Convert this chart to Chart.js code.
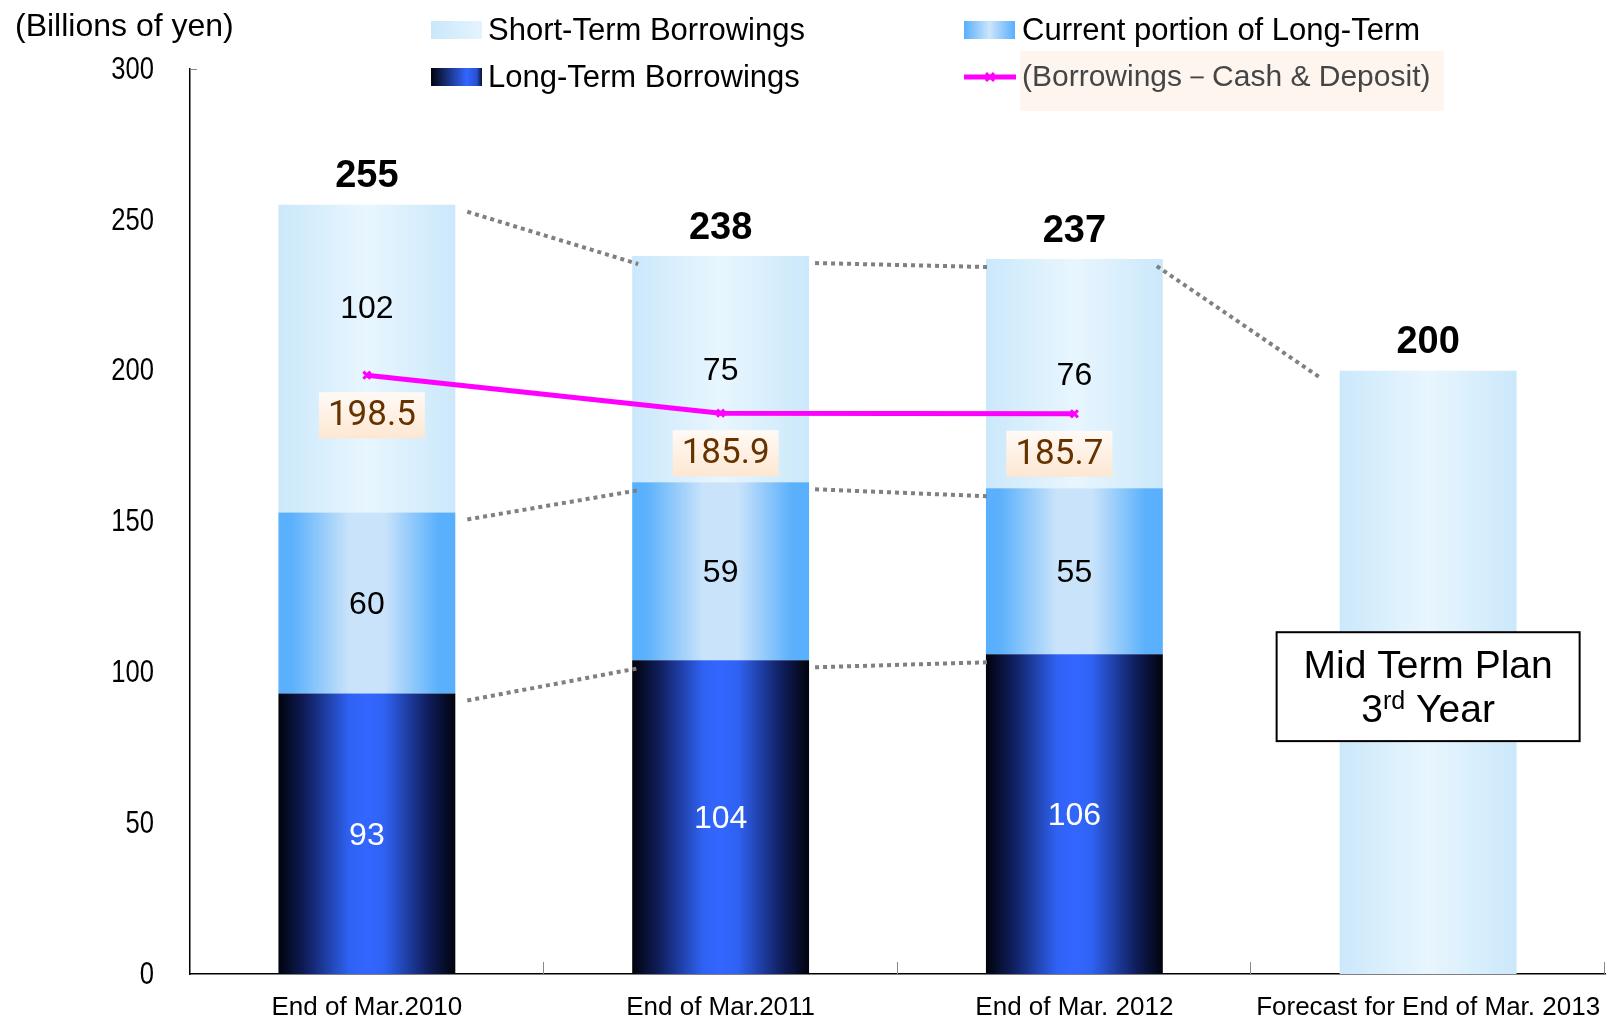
<!DOCTYPE html>
<html><head><meta charset="utf-8">
<script src="https://cdn.jsdelivr.net/npm/chart.js@4/dist/chart.umd.min.js"></script>
<style>html,body{margin:0;padding:0;background:#fff;} #wrap{width:1608px;height:1019px;position:relative;}</style>
</head><body><div id="wrap"><canvas id="c" width="1608" height="1019"></canvas></div>
<script>
const categories = ['End of Mar.2010', 'End of Mar.2011', 'End of Mar. 2012', 'Forecast for End of Mar. 2013'];
const longTerm = [93, 104, 106, null];
const currentPortion = [60, 59, 55, null];
const shortTerm = [102, 75, 76, null];
const forecast = [null, null, null, 200];
const netDebt = [198.5, 185.9, 185.7, null];
const yTicks = [0, 50, 100, 150, 200, 250, 300];
const seriesNames = ['Short-Term Borrowings', 'Current portion of Long-Term', 'Long-Term Borrowings', '(Borrowings\uFF0DCash & Deposit)'];
const axisTitle = '(Billions of yen)';
const noteLine1 = 'Mid Term Plan';
const noteLine2 = ['3', 'rd', ' Year'];

const FONT = '"Liberation Sans", Arial, sans-serif';
const shortStops = [[0, '#cbe8fb'], [0.5, '#e8f6fe'], [1, '#cbe8fb']];
const currentStops = [[0, '#58affd'], [0.08, '#5cb1fc'], [0.4, '#c9e3fa'], [0.6, '#c9e3fa'], [0.9, '#5cb1fc'], [1, '#58affd']];
const longStops = [[0, '#01030c'], [0.15, '#0f1d5a'], [0.4, '#2f62f3'], [0.5, '#3366ff'], [0.6, '#2f62f3'], [0.85, '#0f1d5a'], [1, '#01030c']];

const CAT_PCT = 0.5;
function barBounds(chart, i) {
  const xs = chart.scales.x;
  const cx = xs.getPixelForValue(i);
  const w = (xs.width / categories.length) * CAT_PCT;
  return { cx, left: cx - w / 2, right: cx + w / 2, w };
}
function makeGrad(chart, x0, x1, stops) {
  const g = chart.ctx.createLinearGradient(x0, 0, x1, 0);
  stops.forEach(s => g.addColorStop(s[0], s[1]));
  return g;
}
function barFill(stops) {
  return function (ctx) {
    const chart = ctx.chart;
    if (!chart.chartArea || !chart.scales.x || ctx.type !== 'data') return stops[0][1];
    const b = barBounds(chart, ctx.dataIndex);
    return makeGrad(chart, b.left, b.right, stops);
  };
}

const extras = {
  id: 'extras',
  afterDatasetsDraw(chart, args, opts) {
    const c = chart.ctx;
    const xs = chart.scales.x, ys = chart.scales.y;
    const n = categories.length;
    const segs = [longTerm, currentPortion, shortTerm, forecast];
    const totals = categories.map((_, i) => segs.reduce((s, a) => s + (a[i] || 0), 0));
    const bounds = i => (longTerm[i] != null)
      ? [longTerm[i], longTerm[i] + currentPortion[i], totals[i]]
      : [totals[i]];

    // dotted connectors between bars
    c.save();
    c.strokeStyle = '#808080';
    c.lineWidth = 4;
    c.setLineDash([4, 4]);
    for (let i = 0; i < n - 1; i++) {
      const a = bounds(i), b = bounds(i + 1);
      const pairs = (a.length === b.length) ? a.map((v, k) => [v, b[k]]) : [[a[a.length - 1], b[b.length - 1]]];
      const ba = barBounds(chart, i), bb = barBounds(chart, i + 1);
      const [d0, d1] = opts.connectorDx[i] || [12, 6];
      pairs.forEach(([v1, v2]) => {
        c.beginPath();
        c.moveTo(ba.right + d0, ys.getPixelForValue(v1) + 7);
        c.lineTo(bb.left + d1, ys.getPixelForValue(v2) + 8);
        c.stroke();
      });
    }
    c.restore();

    // segment value labels
    c.save();
    c.textAlign = 'center';
    c.textBaseline = 'middle';
    c.font = '32px ' + FONT;
    for (let i = 0; i < n; i++) {
      if (longTerm[i] == null) continue;
      const cx = xs.getPixelForValue(i);
      let base = 0;
      [[longTerm, '#ffffff'], [currentPortion, '#000000'], [shortTerm, '#000000']].forEach(([arr, col], k) => {
        const v = arr[i];
        let y = ys.getPixelForValue(base + v / 2);
        if (k === 2 && netDebt[i] != null) {
          const py = ys.getPixelForValue(netDebt[i]);
          if (py - y < 30) y = py - 68;
        }
        c.fillStyle = col;
        c.fillText(String(v), cx, y + 2);
        base += v;
      });
    }
    // totals
    c.font = 'bold 38px ' + FONT;
    c.fillStyle = '#000';
    for (let i = 0; i < n; i++) {
      c.fillText(String(totals[i]), xs.getPixelForValue(i), ys.getPixelForValue(totals[i]) - 28);
    }
    c.restore();

    // net debt labels
    c.save();
    c.textAlign = 'center';
    c.textBaseline = 'middle';
    c.font = '35px Roboto, sans-serif';
    netDebt.forEach((v, i) => {
      if (v == null) return;
      const px = xs.getPixelForValue(i) + (opts.netLabelDx[i] || 0), py = ys.getPixelForValue(v);
      const bw = 106, bh = 46, cy = py + 40;
      const g = c.createLinearGradient(0, cy - bh / 2, 0, cy + bh / 2);
      g.addColorStop(0, '#fffaf6');
      g.addColorStop(1, '#fde7d2');
      c.fillStyle = g;
      c.fillRect(px - bw / 2, cy - bh / 2, bw, bh);
      c.fillStyle = '#663300';
      c.fillText(v.toFixed(1), px, cy + 1);
    });
    c.restore();

    // Mid Term Plan note
    c.save();
    const ncx = xs.getPixelForValue(n - 1);
    const top = ys.getPixelForValue(113.3), bot = ys.getPixelForValue(77.2);
    const bw = 303;
    c.fillStyle = '#fff';
    c.fillRect(ncx - bw / 2, top, bw, bot - top);
    c.strokeStyle = '#000';
    c.lineWidth = 2;
    c.strokeRect(ncx - bw / 2, top, bw, bot - top);
    c.fillStyle = '#000';
    c.textBaseline = 'alphabetic';
    c.textAlign = 'center';
    const big = '39px ' + FONT, small = '25px ' + FONT;
    c.font = big;
    c.fillText(noteLine1, ncx, top + 46);
    c.textAlign = 'left';
    c.font = big; const w1 = c.measureText(noteLine2[0]).width;
    c.font = small; const w2 = c.measureText(noteLine2[1]).width;
    c.font = big; const w3 = c.measureText(noteLine2[2]).width;
    let x = ncx - (w1 + w2 + w3) / 2;
    const bl = top + 90;
    c.font = big; c.fillText(noteLine2[0], x, bl); x += w1;
    c.font = small; c.fillText(noteLine2[1], x, bl - 13); x += w2;
    c.font = big; c.fillText(noteLine2[2], x, bl);
    c.restore();

    // small axis ticks
    c.save();
    c.strokeStyle = '#888';
    c.lineWidth = 1;
    const catW = xs.width / n;
    for (let i = 1; i <= n; i++) {
      const x = Math.round(xs.left + catW * i) - 0.5;
      c.beginPath(); c.moveTo(x, ys.bottom - 12); c.lineTo(x, ys.bottom); c.stroke();
    }
    c.beginPath(); c.moveTo(xs.left, ys.top + 0.5); c.lineTo(xs.left + 7, ys.top + 0.5); c.stroke();
    c.restore();

    // y tick labels (condensed)
    c.save();
    c.fillStyle = '#000';
    c.textAlign = 'right';
    c.textBaseline = 'middle';
    c.font = '32px ' + FONT;
    const sx = 0.8;
    yTicks.forEach(v => {
      const y = ys.getPixelForValue(v);
      c.save();
      c.translate(xs.left - 36, y + 1);
      c.scale(sx, 1);
      c.fillText(String(v), 0, 0);
      c.restore();
    });
    c.restore();
  },
  afterDraw(chart) {
    const c = chart.ctx;
    c.save();
    c.textBaseline = 'middle';
    c.textAlign = 'left';
    c.fillStyle = '#000';
    c.font = '32px ' + FONT;
    c.fillText(axisTitle, 15, 27);

    c.font = '31px ' + FONT;
    const sw = (x, y, stops) => {
      c.fillStyle = makeGrad(chart, x, x + 51, stops);
      c.fillRect(x, y - 9, 51, 18);
    };
    sw(431, 30, [[0, '#c9e7fb'], [1, '#e4f4fe']]);
    c.fillStyle = '#000'; c.fillText(seriesNames[0], 488, 31);
    sw(964, 30, [[0, '#58affd'], [0.5, '#cde5fb'], [1, '#58affd']]);
    c.fillStyle = '#000'; c.fillText(seriesNames[1], 1022, 31);
    sw(431, 77, [[0, '#01030c'], [0.7, '#3366ff'], [0.9, '#2850d0'], [1, '#0a1030']]);
    c.fillStyle = '#000'; c.fillText(seriesNames[2], 488, 78);
    c.fillStyle = '#fdf5ee';
    c.fillRect(1020, 51, 424, 60);
    c.strokeStyle = '#ff00ff';
    c.lineWidth = 5;
    c.beginPath(); c.moveTo(964, 77); c.lineTo(1016, 77); c.stroke();
    c.lineWidth = 3;
    c.beginPath(); c.moveTo(986, 73); c.lineTo(994, 81); c.moveTo(994, 73); c.lineTo(986, 81); c.stroke();
    c.font = '30px ' + FONT;
    c.fillStyle = '#454545'; c.fillText(seriesNames[3], 1022, 78);
    c.restore();
  }
};

const barCommon = { stack: 's', categoryPercentage: CAT_PCT, barPercentage: 1, borderWidth: 0, order: 2 };
new Chart(document.getElementById('c'), {
  type: 'bar',
  data: {
    labels: categories,
    datasets: [
      Object.assign({ label: seriesNames[2], data: longTerm, backgroundColor: barFill(longStops) }, barCommon),
      Object.assign({ label: seriesNames[1], data: currentPortion, backgroundColor: barFill(currentStops) }, barCommon),
      Object.assign({ label: seriesNames[0], data: shortTerm, backgroundColor: barFill(shortStops) }, barCommon),
      Object.assign({ label: 'Forecast', data: forecast, backgroundColor: barFill(shortStops) }, barCommon),
      {
        type: 'line', label: seriesNames[3], data: netDebt, order: 0,
        borderColor: '#ff00ff', borderWidth: 5, fill: false, tension: 0,
        pointStyle: 'crossRot', pointRadius: 5, pointBorderWidth: 3,
        pointBorderColor: '#ff00ff', pointBackgroundColor: '#ff00ff', spanGaps: false
      }
    ]
  },
  options: {
    responsive: false,
    animation: false,
    devicePixelRatio: 1,
    layout: { autoPadding: false, padding: { top: 69, right: 3, left: 0, bottom: 0 } },
    plugins: {
      legend: { display: false }, tooltip: { enabled: false }, title: { display: false },
      extras: { netLabelDx: [5, 5, -15], connectorDx: [[12, 6], [6, 3], [-6, -18]] }
    },
    scales: {
      x: {
        stacked: true,
        grid: { display: false },
        border: { display: true, color: '#000', width: 1.5 },
        ticks: { font: { family: FONT, size: 26 }, color: '#000', padding: 10, maxRotation: 0, autoSkip: false },
        afterFit: s => { s.height = 45; s.paddingLeft = 0; s.paddingRight = 0; s.paddingTop = 0; s.paddingBottom = 0; }
      },
      y: {
        stacked: true, min: 0, max: 300,
        afterBuildTicks: s => { s.ticks = yTicks.map(v => ({ value: v })); },
        grid: { display: false },
        border: { display: true, color: '#000', width: 1.5 },
        ticks: { display: false },
        afterFit: s => { s.width = 190; s.paddingLeft = 0; s.paddingRight = 0; s.paddingTop = 0; s.paddingBottom = 0; }
      }
    }
  },
  plugins: [extras]
});
</script>
</body></html>
